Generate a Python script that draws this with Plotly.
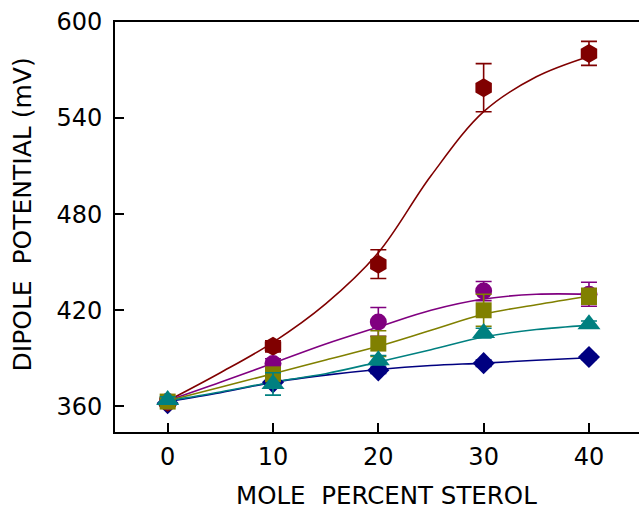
import plotly.graph_objects as go

# ---- data ----
sterol = [0, 10, 20, 30, 40]
fit_x = [0, 5, 10, 15, 20, 25, 30, 35, 40]

red_y = [362.5, 397.5, 448.8, 559.0, 580.4]
red_err = [2, 3.5, 9, 15, 7.5]
red_fit = [363.5, 381, 400, 424, 456, 504, 544, 565.8, 578.5]

purple_y = [363, 386.7, 412.7, 432, 430]
purple_err = [2, 3, 9, 6, 7.5]
purple_fit = [363.5, 375, 387, 399, 409.6, 420, 427, 430, 430]

olive_y = [363, 380, 399.2, 420, 428.8]
olive_err = [2, 3, 8, 10, 5]
olive_fit = [363.5, 372, 380.4, 389, 397.5, 407.5, 417.5, 423.5, 428.8]

teal_y = [364, 374, 388.8, 405.8, 411.3]
teal_err = [2, 7, 3, 3, 2]
teal_fit = [363.5, 369, 375.2, 380.4, 387.7, 395.4, 403.3, 408, 410.6]

navy_y = [362, 375, 382.5, 387, 390.8]
navy_err = [1.5, 2, 2, 2, 1.5]
navy_fit = [363, 368.5, 375, 379.5, 383, 385.5, 387, 388.8, 390.4]

x_ticks = [0, 10, 20, 30, 40]
y_ticks = [360, 420, 480, 540, 600]

series = [
    ("navy", navy_y, navy_err, navy_fit, "#000080", "diamond", 17),
    ("red", red_y, red_err, red_fit, "#800000", "hexagon", 19),
    ("purple", purple_y, purple_err, purple_fit, "#800080", "circle", 17),
    ("olive", olive_y, olive_err, olive_fit, "#808000", "square", 16),
    ("teal", teal_y, teal_err, teal_fit, "#008080", "triangle-up", 20),
]

fig = go.Figure()
for name, y, err, fit, col, sym, sz in series:
    fig.add_trace(go.Scatter(x=fit_x, y=fit, mode="lines",
                             line=dict(color=col, width=1.6, shape="spline", smoothing=1.0),
                             hoverinfo="skip", showlegend=False))
for name, y, err, fit, col, sym, sz in series:
    fig.add_trace(go.Scatter(x=sterol, y=y, mode="markers",
                             marker=dict(symbol=sym, size=sz, color=col, line=dict(width=0)),
                             error_y=dict(type="data", array=err, visible=True,
                                          color=col, thickness=1.6, width=8),
                             name=name, showlegend=False))

L, T, B = 114.6, 22, 432
W, H = 639, 511
pw = W - L
ph = B - T

fig.update_layout(
    width=W, height=H,
    margin=dict(l=L, r=0, t=T, b=H - B, pad=0),
    paper_bgcolor="white", plot_bgcolor="white",
    font=dict(family="DejaVu Sans", size=24, color="black"),
    showlegend=False,
)
fig.update_xaxes(range=[-5, 44.75], tickvals=x_ticks, ticktext=[str(v) for v in x_ticks],
                 ticks="inside", ticklen=9, tickwidth=1.5, tickcolor="black",
                 showline=True, linecolor="black", linewidth=2, mirror=True,
                 showgrid=False, zeroline=False, ticklabelstandoff=2)
fig.update_yaxes(range=[344, 600], tickvals=y_ticks, ticktext=[str(v) for v in y_ticks],
                 ticks="inside", ticklen=9, tickwidth=1.5, tickcolor="black",
                 showline=True, linecolor="black", linewidth=2, mirror=False,
                 showgrid=False, zeroline=False, ticklabelstandoff=6)

fig.add_annotation(text="MOLE\u00a0 PERCENT STEROL", xref="paper", yref="paper",
                   x=(386 - L) / pw, y=(B - 496) / ph, showarrow=False,
                   xanchor="center", yanchor="middle", font=dict(size=24.5), borderpad=0)
fig.add_annotation(text="DIPOLE\u00a0 POTENTIAL (mV)", xref="paper", yref="paper",
                   x=(22 - L) / pw, y=(B - 214) / ph, showarrow=False, textangle=-90,
                   xanchor="center", yanchor="middle", font=dict(size=25))

fig.write_html("out.html", config={"displayModeBar": False},
               post_script="document.body.style.margin='0';document.body.style.overflow='hidden';")
